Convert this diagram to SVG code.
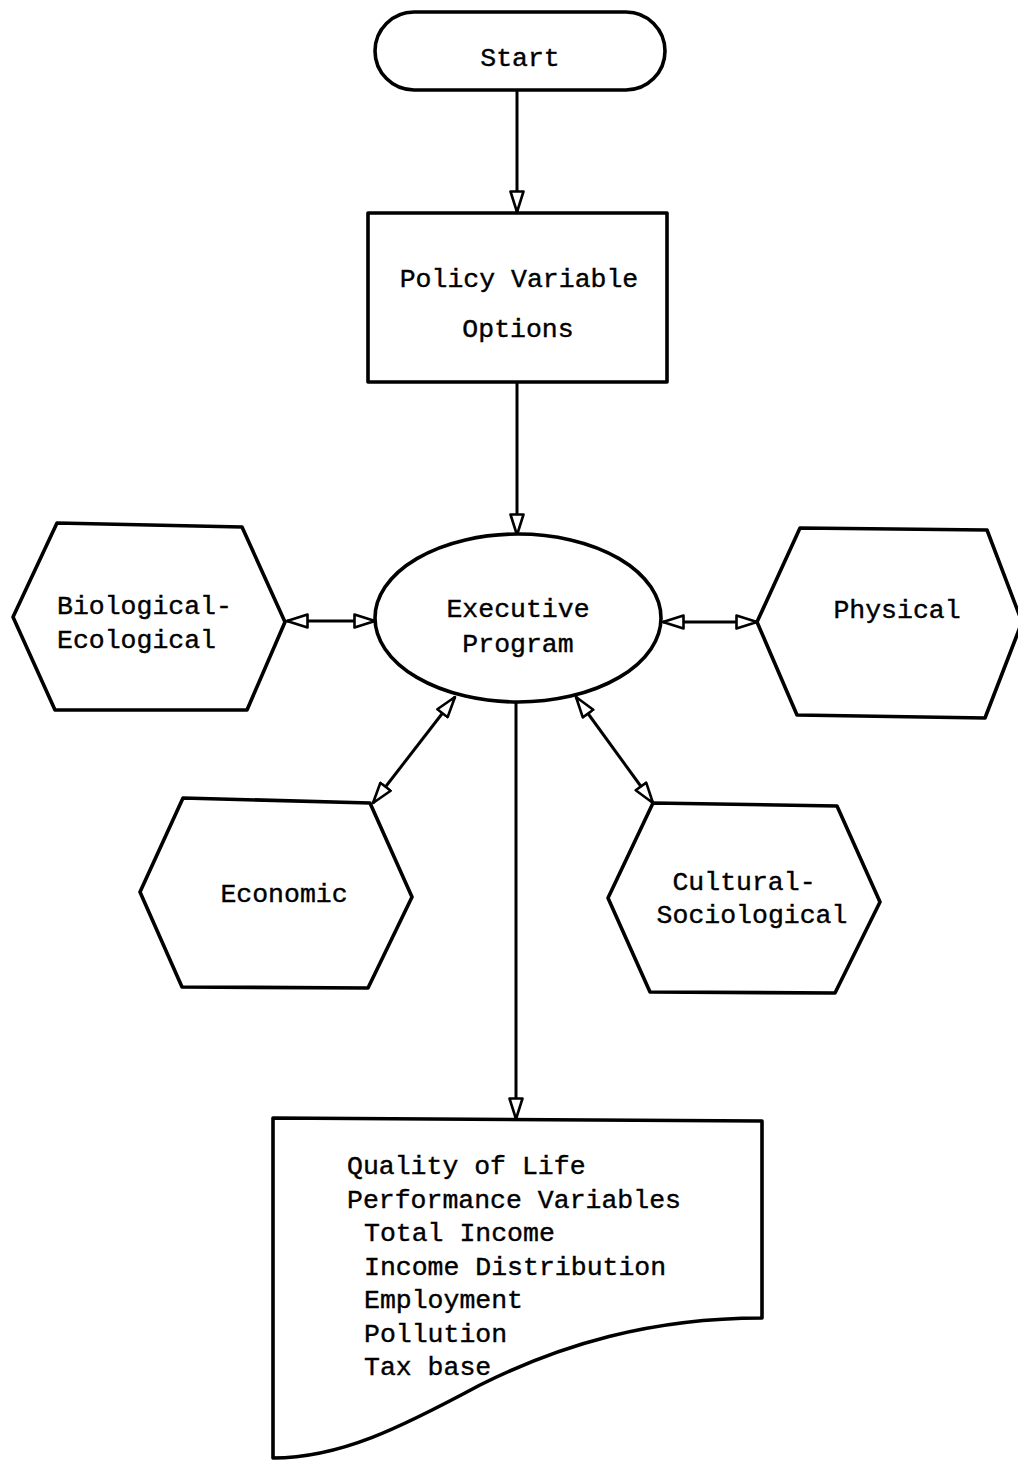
<svg xmlns="http://www.w3.org/2000/svg" width="1018" height="1462" viewBox="0 0 1018 1462">
<style>
.s{fill:#fff;stroke:#000;stroke-width:3.6;stroke-linejoin:round}
.t{font-family:"Liberation Mono","DejaVu Sans Mono",monospace;font-size:26.5px;fill:#000;stroke:#000;stroke-width:0.4}
.c{text-anchor:middle}
.l{fill:none;stroke:#000;stroke-width:3}
</style>
<defs>
<marker id="ah" viewBox="0 0 24 16" refX="22" refY="8" markerWidth="24" markerHeight="16" markerUnits="userSpaceOnUse" orient="auto-start-reverse">
<path d="M1.5,1.5 L22,8 L1.5,14.5 Z" fill="#fff" stroke="#000" stroke-width="2.6" stroke-linejoin="round"/>
</marker>
</defs>
<rect width="1018" height="1462" fill="#fff"/>
<g id="connectors">
<line class="l" x1="517" y1="90" x2="517" y2="212" marker-end="url(#ah)"/>
<line class="l" x1="517" y1="382" x2="517" y2="535" marker-end="url(#ah)"/>
<line class="l" x1="516" y1="702" x2="516" y2="1119" marker-end="url(#ah)"/>
<line class="l" x1="287" y1="621" x2="375" y2="621" marker-start="url(#ah)" marker-end="url(#ah)"/>
<line class="l" x1="663" y1="622" x2="757" y2="622" marker-start="url(#ah)" marker-end="url(#ah)"/>
<line class="l" x1="455" y1="697" x2="373" y2="803" marker-start="url(#ah)" marker-end="url(#ah)"/>
<line class="l" x1="576" y1="697" x2="653" y2="803" marker-start="url(#ah)" marker-end="url(#ah)"/>
</g>
<g id="start">
<rect class="s" x="375" y="12" width="290" height="78" rx="39" ry="39"/>
<text class="t c" x="520" y="66">Start</text>
</g>
<g id="policy">
<rect class="s" x="368" y="213" width="299" height="169"/>
<text class="t c" x="519" y="287">Policy Variable</text>
<text class="t c" x="518" y="337">Options</text>
</g>
<g id="executive">
<ellipse class="s" cx="518" cy="618" rx="143" ry="84"/>
<text class="t c" x="518" y="617">Executive</text>
<text class="t c" x="518" y="652">Program</text>
</g>
<g id="biological">
<polygon class="s" points="57,523 242,527 285,622 247,710 55,710 13,617"/>
<text class="t" x="57" y="614">Biological-</text>
<text class="t" x="57" y="648">Ecological</text>
</g>
<g id="physical">
<polygon class="s" points="800,528 987,530 1022,622 985,718 797,715 757,622"/>
<text class="t c" x="897" y="618">Physical</text>
</g>
<g id="economic">
<polygon class="s" points="183,798 370,803 412,897 368,988 182,987 140,892"/>
<text class="t c" x="284" y="902">Economic</text>
</g>
<g id="cultural">
<polygon class="s" points="653,803 837,806 880,902 835,993 650,992 608,898"/>
<text class="t c" x="744" y="890">Cultural-</text>
<text class="t c" x="752" y="923">Sociological</text>
</g>
<g id="quality">
<path class="s" d="M273,1118 L762,1121 L762,1318 C650,1318 560,1345 480,1385 C400,1428 340,1458 273,1458 Z"/>
<text class="t" x="347" y="1174">Quality of Life</text>
<text class="t" x="347" y="1208">Performance Variables</text>
<text class="t" x="364" y="1241">Total Income</text>
<text class="t" x="364" y="1275">Income Distribution</text>
<text class="t" x="364" y="1308">Employment</text>
<text class="t" x="364" y="1342">Pollution</text>
<text class="t" x="364" y="1375">Tax base</text>
</g>
</svg>
